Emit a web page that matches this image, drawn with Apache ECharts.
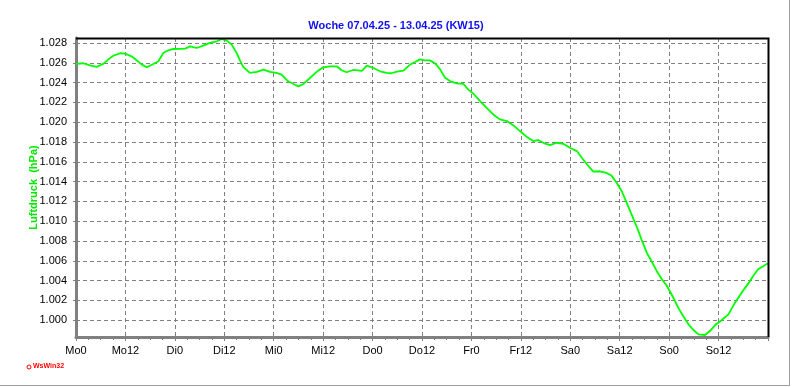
<!DOCTYPE html>
<html>
<head>
    <meta charset="utf-8">
    <title>Luftdruck KW15</title>
    <script src="https://cdn.jsdelivr.net/npm/echarts@6/dist/echarts.min.js"></script>
    <style>
        html, body { margin: 0; padding: 0; background: #fff; }
    </style>
</head>
<body>
    <div id="main" style="width: 792px;height:387px;"></div>
    <script type="text/javascript">
        // Beschriftung der x-Achse (alle 12 Stunden)
        var dayLabels = ['Mo0', 'Mo12', 'Di0', 'Di12', 'Mi0', 'Mi12', 'Do0', 'Do12',
                         'Fr0', 'Fr12', 'Sa0', 'Sa12', 'So0', 'So12'];

        // Stunden seit Mo 0 Uhr
        var hours = [0.0, 1.8, 3.4, 5.0, 6.6, 7.8, 9.1, 10.7, 11.9, 13.5, 14.7, 16.0, 17.2, 18.8,
            20.0, 21.2, 22.4, 23.6, 26.5, 27.7, 29.3, 30.9, 32.5, 34.2, 35.4, 36.6, 37.8, 39.0,
            39.8, 40.6, 42.2, 43.9, 45.5, 47.1, 48.7, 49.9, 51.5, 52.8, 54.0, 55.2, 56.8, 58.4,
            60.0, 61.7, 63.3, 64.5, 65.7, 67.3, 69.4, 70.6, 72.2, 73.8, 75.4, 76.6, 77.9, 79.5,
            81.1, 82.3, 83.5, 84.7, 85.9, 87.2, 88.4, 89.6, 90.8, 92.4, 94.0, 95.2, 96.5, 98.1,
            99.7, 101.3, 102.9, 104.6, 106.2, 107.8, 109.4, 111.0, 112.2, 113.9, 115.1, 116.7,
            118.3, 119.9, 121.6, 122.8, 124.4, 125.6, 127.2, 128.8, 130.0, 131.3, 132.5, 133.7,
            134.9, 136.1, 137.3, 138.6, 139.8, 141.0, 142.2, 143.4, 144.8, 146.2, 147.4, 148.7,
            149.9, 151.1, 152.7, 153.9, 155.1, 156.7, 158.4, 160.0, 161.6, 163.2, 164.4, 165.6,
            167.2, 168.0];

        // Luftdruck in hPa
        var pressure = [1025.88, 1025.95, 1025.74, 1025.58, 1025.88, 1026.32, 1026.72, 1026.96,
            1026.92, 1026.65, 1026.25, 1025.81, 1025.54, 1025.88, 1026.15, 1026.99, 1027.26,
            1027.39, 1027.43, 1027.66, 1027.49, 1027.73, 1028.0, 1028.17, 1028.40, 1028.24,
            1027.83, 1026.99, 1026.25, 1025.58, 1024.97, 1025.07, 1025.31, 1025.07, 1024.97,
            1024.80, 1024.13, 1023.86, 1023.62, 1023.86, 1024.46, 1025.07, 1025.54, 1025.64,
            1025.64, 1025.24, 1025.04, 1025.27, 1025.17, 1025.71, 1025.47, 1025.14, 1024.97,
            1024.94, 1025.10, 1025.21, 1025.81, 1026.07, 1026.34, 1026.24, 1026.24, 1025.93,
            1025.33, 1024.48, 1024.15, 1023.91, 1023.88, 1023.31, 1022.87, 1022.13, 1021.45,
            1020.78, 1020.28, 1020.11, 1019.67, 1019.10, 1018.53, 1018.09, 1018.19, 1017.82,
            1017.68, 1017.92, 1017.82, 1017.41, 1017.08, 1016.40, 1015.55, 1015.0, 1015.04,
            1014.87, 1014.6, 1013.86, 1013.02, 1011.84, 1010.66, 1009.48, 1008.13, 1006.79,
            1005.9, 1004.95, 1004.15, 1003.5, 1002.44, 1001.27, 1000.42, 999.58, 999.01,
            998.57, 998.5, 998.9, 999.48, 999.99, 1000.59, 1001.77, 1002.78, 1003.69, 1004.46,
            1005.14, 1005.54, 1005.74];

        var seriesData = hours.map(function (h, i) { return [h, pressure[i]]; });

        var myChart = echarts.init(document.getElementById('main'));

        myChart.setOption({
            animation: false,
            backgroundColor: '#ffffff',
            title: {
                text: 'Woche 07.04.25 - 13.04.25 (KW15)',
                left: 'center',
                top: 15,
                textStyle: {
                    color: '#1010f0',
                    fontSize: 11,
                    fontWeight: 'bold',
                    fontFamily: 'Liberation Sans'
                }
            },
            grid: {
                left: 76,
                right: 24,
                top: 38,
                bottom: 50,
                show: false
            },
            xAxis: {
                type: 'value',
                min: 0,
                max: 168,
                interval: 12,
                axisLine: { lineStyle: { color: '#808080', width: 3 } },
                axisTick: { length: 4, lineStyle: { color: '#808080', width: 1 } },
                minorTick: { show: true, splitNumber: 4, length: 3, lineStyle: { color: '#808080' } },
                axisLabel: {
                    margin: 8,
                    color: '#000',
                    fontSize: 11,
                    fontFamily: 'Liberation Sans',
                    formatter: function (v) {
                        var i = Math.round(v / 12);
                        return dayLabels[i] || '';
                    }
                },
                splitLine: { show: true, lineStyle: { color: '#808080', type: [4, 3], width: 1 } }
            },
            yAxis: {
                type: 'value',
                min: 998.3,
                max: 1028.5,
                minInterval: 2,
                maxInterval: 2,
                splitNumber: 15,
                name: 'Luftdruck  (hPa)',
                nameLocation: 'middle',
                nameRotate: 90,
                nameGap: 37,
                nameMoveOverlap: false,
                nameTextStyle: {
                    color: '#00e800',
                    fontSize: 11,
                    fontWeight: 'bold',
                    fontFamily: 'Liberation Sans'
                },
                axisLine: { show: true, lineStyle: { color: '#808080', width: 3 } },
                axisTick: { show: true, length: 3, lineStyle: { color: '#808080' } },
                axisLabel: {
                    margin: 9,
                    color: '#000',
                    fontSize: 11,
                    fontFamily: 'Liberation Sans',
                    showMinLabel: false,
                    showMaxLabel: false,
                    formatter: function (v) {
                        return (v / 1000).toFixed(3);
                    }
                },
                splitLine: { show: true, lineStyle: { color: '#808080', type: [4, 3], width: 1 } }
            },
            series: [{
                name: 'Luftdruck',
                type: 'line',
                data: seriesData,
                showSymbol: false,
                lineStyle: { color: '#00ff00', width: 1.8 },
                z: 5
            }],
            graphic: [
                // obere und rechte Rahmenlinie des Diagramms
                {
                    type: 'polyline',
                    z: 100,
                    shape: { points: [[76, 38.5], [768.5, 38.5], [768.5, 337]] },
                    style: { stroke: '#000000', lineWidth: 2, fill: null }
                },
                {
                    type: 'line',
                    shape: { x1: 789.5, y1: 0, x2: 789.5, y2: 386 },
                    style: { stroke: '#a0a0a0', lineWidth: 1 }
                },
                {
                    type: 'line',
                    shape: { x1: 0, y1: 385.5, x2: 790, y2: 385.5 },
                    style: { stroke: '#a0a0a0', lineWidth: 1 }
                },
                {
                    type: 'circle',
                    shape: { cx: 29, cy: 367, r: 2 },
                    style: { fill: 'none', stroke: '#ff0000', lineWidth: 1 }
                },
                {
                    type: 'text',
                    left: 33,
                    top: 363,
                    style: {
                        text: 'WsWin32',
                        fill: '#ff0000',
                        font: 'bold 7px "Liberation Sans"'
                    }
                }
            ]
        });
    </script>
</body>
</html>
